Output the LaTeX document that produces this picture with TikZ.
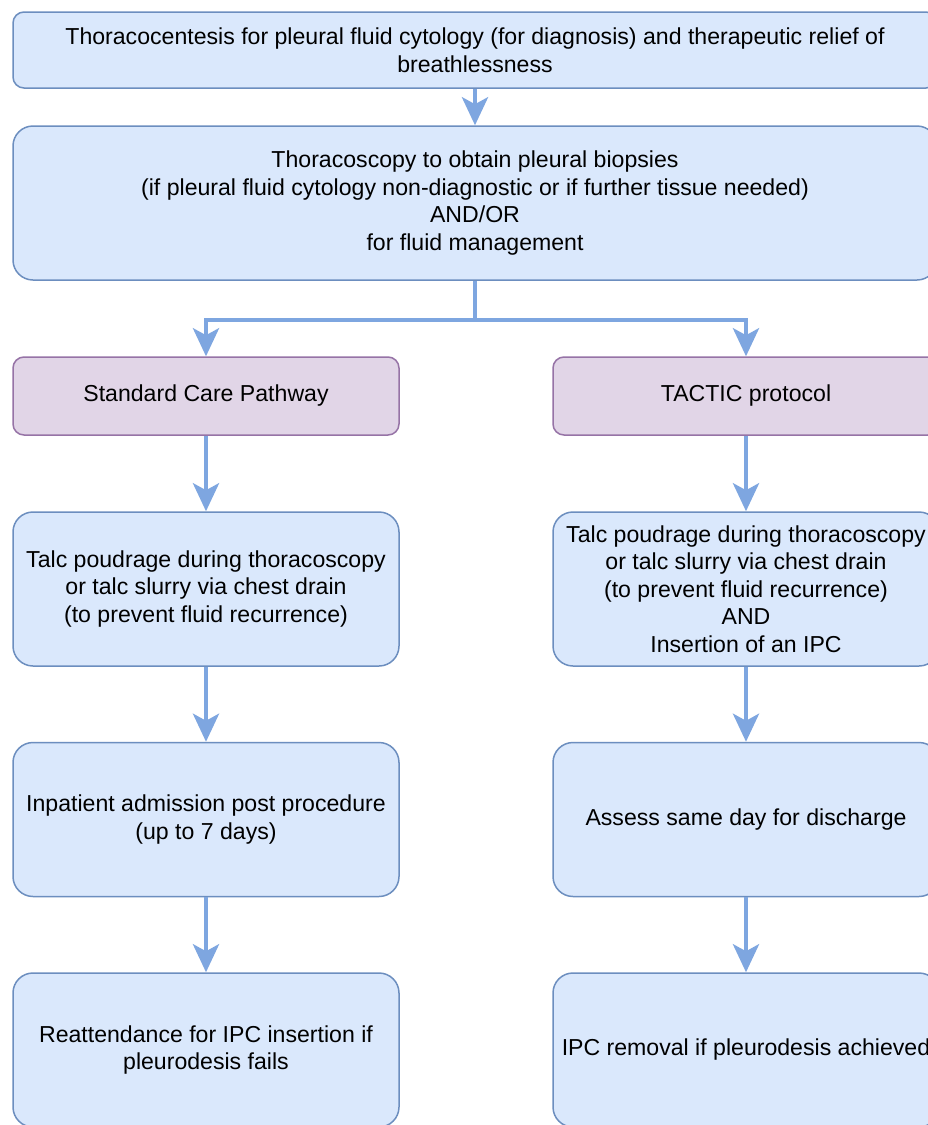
\documentclass[tikz,border=0pt]{standalone}
\usepackage{fontspec}
\setmainfont{Liberation Sans}
\usetikzlibrary{arrows.meta}
\definecolor{bfill}{HTML}{DAE8FC}
\definecolor{bdraw}{HTML}{6C8EBF}
\definecolor{pfill}{HTML}{E1D5E7}
\definecolor{pdraw}{HTML}{9673A6}
\definecolor{arrc}{HTML}{7EA6E0}
\begin{document}
\begin{tikzpicture}[x=1pt,y=-1pt,
  box/.style={draw=bdraw,fill=bfill,line width=1.5pt,align=center,inner sep=0pt,
    font=\fontsize{23.1}{27.5}\selectfont},
  pbox/.style={box,draw=pdraw,fill=pfill},
  arr/.style={draw=arrc,line width=4.5pt,-{Stealth[length=28pt,width=26pt,inset=7pt]}},
  ]
\useasboundingbox[fill=white] (0,0) rectangle (928,1125);
\node[box,minimum width=924pt,minimum height=76pt,rounded corners=11pt] (b1) at (475,50)
  {Thoracocentesis for pleural fluid cytology (for diagnosis) and therapeutic relief of\\breathlessness};
\node[box,minimum width=924pt,minimum height=154pt,rounded corners=20pt] (b2) at (475,203)
  {Thoracoscopy to obtain pleural biopsies\\(if pleural fluid cytology non-diagnostic or if further tissue needed)\\AND/OR\\for fluid management};
\node[pbox,minimum width=386pt,minimum height=78pt,rounded corners=11pt] (b3) at (206,396)
  {Standard Care Pathway};
\node[pbox,minimum width=386pt,minimum height=78pt,rounded corners=11pt] (b4) at (746,396)
  {TACTIC protocol};
\node[box,minimum width=386pt,minimum height=154pt,rounded corners=20pt] (b5) at (206,589)
  {Talc poudrage during thoracoscopy\\or talc slurry via chest drain\\(to prevent fluid recurrence)};
\node[box,minimum width=386pt,minimum height=154pt,rounded corners=20pt] (b6) at (746,589)
  {Talc poudrage during thoracoscopy\\or talc slurry via chest drain\\(to prevent fluid recurrence)\\AND\\Insertion of an IPC};
\node[box,minimum width=386pt,minimum height=154pt,rounded corners=20pt] (b7) at (206,819.5)
  {Inpatient admission post procedure\\(up to 7 days)};
\node[box,minimum width=386pt,minimum height=154pt,rounded corners=20pt] (b8) at (746,819.5)
  {Assess same day for discharge};
\node[box,minimum width=386pt,minimum height=154pt,rounded corners=20pt] (b9) at (206,1050)
  {Reattendance for IPC insertion if\\pleurodesis fails};
\node[box,minimum width=386pt,minimum height=154pt,rounded corners=20pt] (b10) at (746,1050)
  {IPC removal if pleurodesis achieved};
\coordinate (split) at (475,320);
\draw[arr] (b1) -- (b2);
\draw[draw=arrc,line width=4.5pt] (b2.south) -- (split);
\draw[arr] (split) -| (b3.north);
\draw[arr] (split) -| (b4.north);
\draw[arr] (b3) -- (b5);
\draw[arr] (b4) -- (b6);
\draw[arr] (b5) -- (b7);
\draw[arr] (b6) -- (b8);
\draw[arr] (b7) -- (b9);
\draw[arr] (b8) -- (b10);
\end{tikzpicture}
\end{document}
